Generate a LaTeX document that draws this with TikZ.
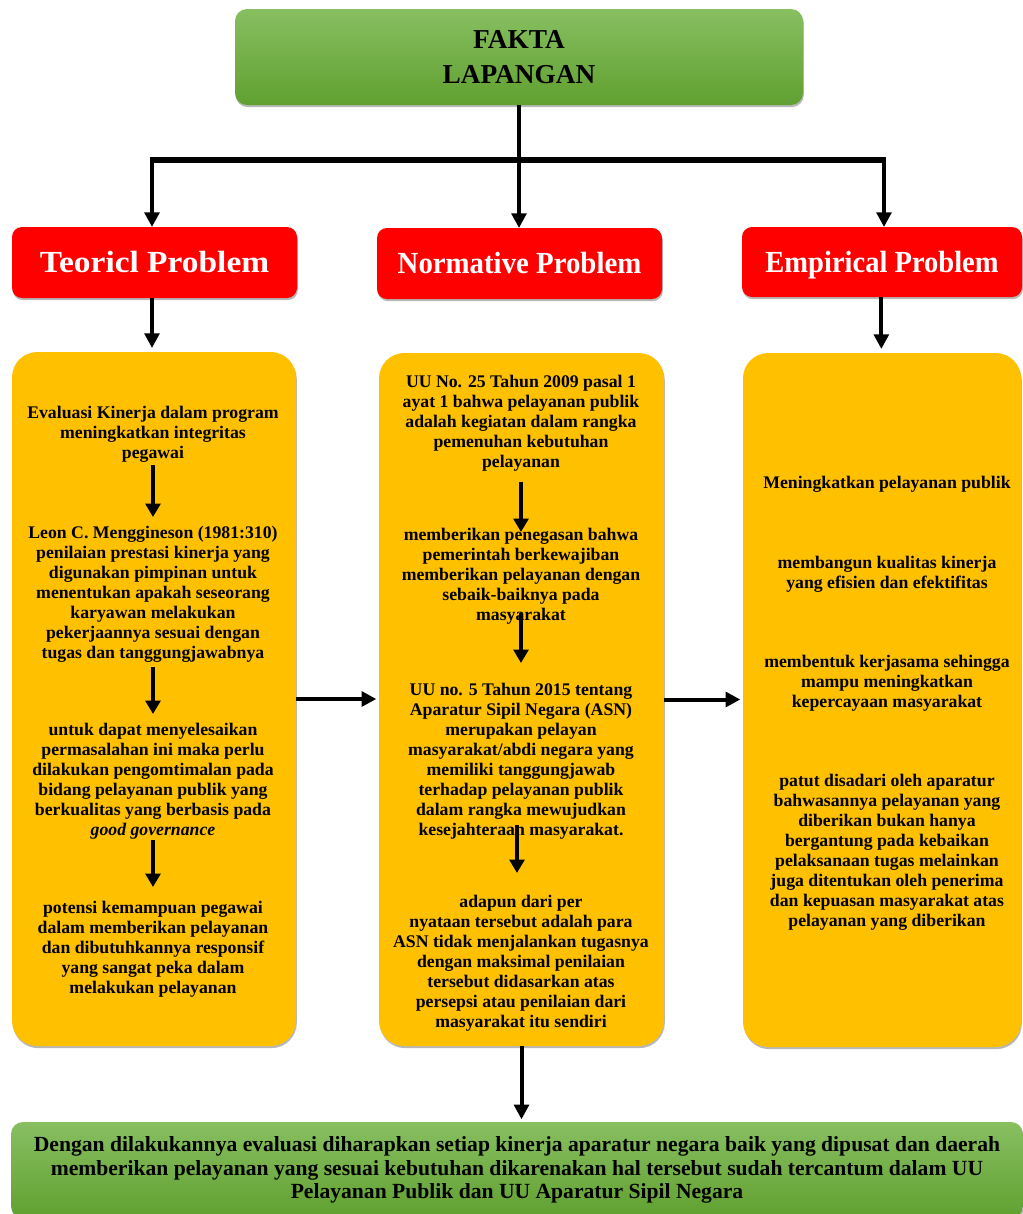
\documentclass[tikz,border=0pt]{standalone}
\usepackage{fontspec}
\setmainfont{Liberation Serif}
\usetikzlibrary{arrows.meta,shadows,calc}
\definecolor{yel}{HTML}{FFC000}
\definecolor{rd}{HTML}{FF0000}
\definecolor{gtop}{HTML}{88BF61}
\definecolor{gbot}{HTML}{60A030}
\tikzset{
  shad/.style={drop shadow={shadow xshift=0.6pt, shadow yshift=-1.6pt, fill=black, opacity=0.28}},
  ybox/.style={shad, fill=yel, rounded corners=19pt, inner sep=0pt, outer sep=0pt},
  rbox/.style={shad, fill=rd, rounded corners=7.5pt, inner sep=0pt, outer sep=0pt,
    text=white, font=\fontsize{23}{27}\selectfont\bfseries, text height=15pt, text depth=0pt,
    minimum width=213.75pt, minimum height=53.25pt},
  gbox/.style={shad, top color=gtop, bottom color=gbot, rounded corners=9pt, inner sep=0pt, outer sep=0pt, align=center},
  txt/.style={align=center, inner sep=0pt, outer sep=0pt, anchor=north,
    font=\fontsize{13.3}{15}\selectfont\bfseries},
  arr/.style={line width=3pt, -{Triangle[width=11pt,length=11pt]}},
  iarr/.style={line width=3.6pt, -{Triangle[width=11pt,length=10pt]}},
}
\begin{document}
\begin{tikzpicture}[x=0.75pt,y=-0.75pt]
\fill[white] (0,0) rectangle (1022,1214);
\useasboundingbox (0,0) rectangle (1022,1214);

% top box
\node[gbox, minimum width=426pt, minimum height=72pt,
  font=\fontsize{20.5}{26.25}\selectfont\bfseries] (top) at (519,57) {FAKTA\\LAPANGAN};

% red boxes
\node[rbox] (tL) at (154.5,262.5) {\scalebox{1.09}[1]{Teoricl Problem}};
\node[rbox] (tM) at (519.5,263.5) {\scalebox{0.94}[1]{Normative Problem}};
\node[rbox, minimum width=210pt, minimum height=52.5pt] (tR) at (882,262) {\scalebox{0.93}[1]{Empirical Problem}};

% yellow boxes
\node[ybox, minimum width=213pt, minimum height=520.5pt] (yL) at (154,699) {};
\node[ybox, minimum width=213.75pt, minimum height=519.75pt] (yM) at (521.5,699.5) {};
\node[ybox, minimum width=208.5pt, minimum height=520.5pt] (yR) at (882,700) {};

% bottom box
\node[gbox, minimum width=759pt, minimum height=72pt,
  font=\fontsize{16.2}{17.6}\selectfont\bfseries] (bot) at (517,1170)
  {Dengan dilakukannya evaluasi diharapkan setiap kinerja aparatur negara baik yang dipusat dan daerah\\
   memberikan pelayanan yang sesuai kebutuhan dikarenakan hal tersebut sudah tercantum dalam UU\\
   Pelayanan Publik dan UU Aparatur Sipil Negara};

% left texts
\node[txt] (l1) at (153,406) {Evaluasi Kinerja dalam program\\meningkatkan integritas\\pegawai};
\node[txt] (l2) at (153,526) {Leon C. Menggineson (1981:310)\\penilaian prestasi kinerja yang\\digunakan pimpinan untuk\\menentukan apakah seseorang\\karyawan melakukan\\pekerjaannya sesuai dengan\\tugas dan tanggungjawabnya};
\node[txt] (l3) at (153,723) {untuk dapat menyelesaikan\\permasalahan ini maka perlu\\dilakukan pengomtimalan pada\\bidang pelayanan publik yang\\berkualitas yang berbasis pada\\\textit{good governance}};
\node[txt] (l4) at (153,901) {potensi kemampuan pegawai\\dalam memberikan pelayanan\\dan dibutuhkannya responsif\\yang sangat peka dalam\\melakukan pelayanan};

% middle texts
\node[txt] (m1) at (521,375) {UU No. 25 Tahun 2009 pasal 1\\ayat 1 bahwa pelayanan publik\\adalah kegiatan dalam rangka\\pemenuhan kebutuhan\\pelayanan};
\node[txt] (m2) at (521,528) {memberikan penegasan bahwa\\pemerintah berkewajiban\\memberikan pelayanan dengan\\sebaik-baiknya pada\\masyarakat};
\node[txt] (m3) at (521,683) {UU no. 5 Tahun 2015 tentang\\Aparatur Sipil Negara (ASN)\\merupakan pelayan\\masyarakat/abdi negara yang\\memiliki tanggungjawab\\terhadap pelayanan publik\\dalam rangka mewujudkan\\kesejahteraan masyarakat.};
\node[txt] (m4) at (521,895) {adapun dari per\\nyataan tersebut adalah para\\ASN tidak menjalankan tugasnya\\dengan maksimal penilaian\\tersebut didasarkan atas\\persepsi atau penilaian dari\\masyarakat itu sendiri};

% right texts
\node[txt] (r1) at (887,476) {Meningkatkan pelayanan publik};
\node[txt] (r2) at (887,556) {membangun kualitas kinerja\\yang efisien dan efektifitas};
\node[txt] (r3) at (887,655) {membentuk kerjasama sehingga\\mampu meningkatkan\\kepercayaan masyarakat};
\node[txt] (r4) at (887,774) {patut disadari oleh aparatur\\bahwasannya pelayanan yang\\diberikan bukan hanya\\bergantung pada kebaikan\\pelaksanaan tugas melainkan\\juga ditentukan oleh penerima\\dan kepuasan masyarakat atas\\pelayanan yang diberikan};

% top connectors
\coordinate (hub) at (519,160);
\coordinate (barL) at (152,160);
\coordinate (barR) at (884,160);
\draw[line width=3pt] (top.south) -- (hub);
\draw[line width=4.5pt] ([xshift=-1.5pt]barL) -- ([xshift=1.5pt]barR);
\draw[arr] (barL) -- (barL |- tL.north);
\draw[arr] (hub) -- (hub |- tM.north);
\draw[arr] (barR) -- (barR |- tR.north);

% red to yellow
\draw[arr, shorten >=3pt] (barL |- tL.south) -- (barL |- yL.north);
\draw[arr, shorten >=3pt] ([xshift=-2pt]barR |- tR.south) -- ([xshift=-2pt]barR |- yR.north);

% between yellow boxes
\draw[arr, shorten >=2pt] (yL.east) -- (yL.east -| yM.west);
\draw[arr, shorten >=2pt] (yM.east) -- (yM.east -| yR.west);
\draw[arr, shorten >=2pt] (yM.south) -- (yM.south |- bot.north);

% inner arrows
\draw[iarr, shorten <=2.25pt, shorten >=6.75pt] (l1.south) -- (l1.south |- l2.north);
\draw[iarr, shorten <=3.75pt, shorten >=6.75pt] (l2.south) -- (l2.south |- l3.north);
\draw[iarr, shorten <=0.75pt, shorten >=10.5pt] (l3.south) -- (l3.south |- l4.north);
\draw[iarr, shorten <=8.25pt, shorten >=-3pt] (m1.south) -- (m1.south |- m2.north);
\draw[iarr, shorten <=-8.25pt, shorten >=15pt] (m2.south) -- (m2.south |- m3.north);
\draw[iarr, shorten <=-10.5pt, shorten >=16.5pt] ([xshift=-3pt]m3.south) -- ([xshift=-3pt]m3.south |- m4.north);
\end{tikzpicture}
\end{document}
